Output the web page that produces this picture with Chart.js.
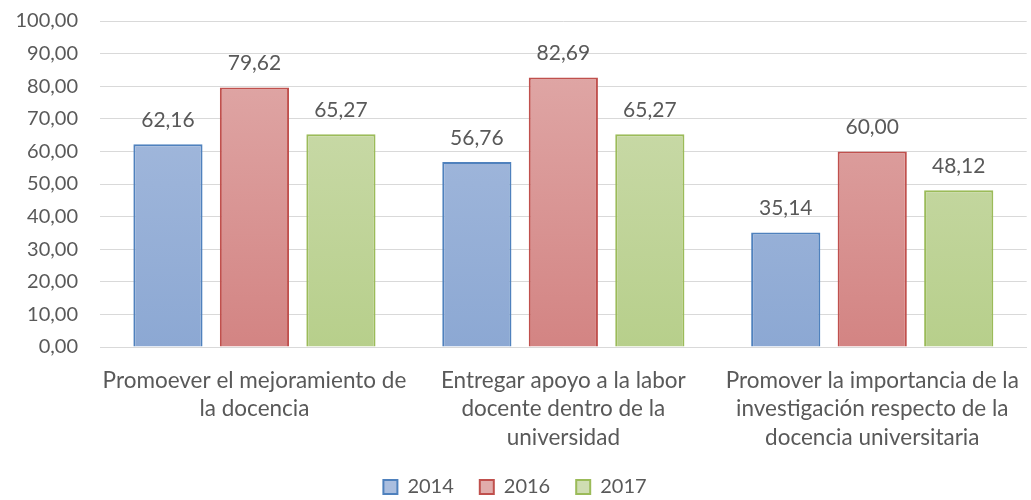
<!DOCTYPE html>
<html>
<head>
<meta charset="utf-8">
<script src="https://cdn.jsdelivr.net/npm/chart.js@4/dist/chart.umd.min.js"></script>
<style>
  html, body { margin: 0; padding: 0; background: #fff; }
  #wrap { width: 1031px; height: 500px; }
</style>
</head>
<body>
<div id="wrap"><canvas id="chart"></canvas></div>
<script>
// data
const categories = [
    ["Promoever el mejoramiento de", "la docencia"],
    ["Entregar apoyo a la labor", "docente dentro de la", "universidad"],
    ["Promover la importancia de la", "investigación respecto de la", "docencia universitaria"]
];
const years = ["2014", "2016", "2017"];
const values2014 = [62.16, 56.76, 35.14];
const values2016 = [79.62, 82.69, 60.00];
const values2017 = [65.27, 65.27, 48.12];

const fmt = v => v.toFixed(2).replace('.', ',');
const FONT = 'Lato, "Open Sans", sans-serif';

// top / bottom gradient colours and border per series
const styles = [
    { top: '#aabedf', bottom: '#8ca8d3', border: '#4f81bd' },
    { top: '#e1acab', bottom: '#d38483', border: '#c0504d' },
    { top: '#cfddb2', bottom: '#b7cf8b', border: '#9bbb59' }
];

function gradient(ctx, s) {
    const area = ctx.chart.chartArea;
    if (!area) return s.bottom;
    const g = ctx.chart.ctx.createLinearGradient(0, area.top, 0, area.bottom);
    g.addColorStop(0, s.top);
    g.addColorStop(1, s.bottom);
    return g;
}

// draw value labels above bars
const valueLabels = {
    id: 'valueLabels',
    afterDatasetsDraw(chart) {
        const c = chart.ctx;
        c.save();
        c.font = '21px ' + FONT;
        c.fillStyle = '#595959';
        c.textAlign = 'center';
        c.textBaseline = 'middle';
        chart.data.datasets.forEach((ds, i) => {
            chart.getDatasetMeta(i).data.forEach((bar, j) => {
                c.fillText(fmt(ds.data[j]), bar.x, bar.y - 24);
            });
        });
        c.restore();
    }
};

const seriesData = [values2014, values2016, values2017];

new Chart(document.getElementById('chart'), {
    type: 'bar',
    data: {
        labels: categories,
        datasets: years.map((y, i) => ({
            label: y,
            data: seriesData[i],
            backgroundColor: ctx => gradient(ctx, styles[i]),
            borderColor: styles[i].border,
            borderWidth: 2,
            borderSkipped: 'bottom',
            categoryPercentage: 0.84,
            barPercentage: 0.8
        }))
    },
    options: {
        responsive: true,
        maintainAspectRatio: false,
        animation: false,
        layout: { padding: { top: 21, right: 1, left: 0, bottom: -7 } },
        scales: {
            x: {
                grid: { display: false },
                border: { color: '#d9d9d9', width: 1 },
                ticks: {
                    color: '#595959',
                    font: { size: 22.5, family: FONT, lineHeight: 1.25 },
                    maxRotation: 0,
                    autoSkip: false,
                    padding: 12
                },
                afterFit(axis) { axis.height = 104; }
            },
            y: {
                min: 0,
                max: 100,
                border: { display: false },
                grid: { color: '#d9d9d9', lineWidth: 1, drawTicks: false },
                ticks: {
                    stepSize: 10,
                    color: '#595959',
                    font: { size: 20, family: FONT },
                    padding: 22,
                    callback: v => fmt(v)
                },
                afterFit(axis) {
                    axis.width = 100;
                    axis.paddingTop = 0;
                    axis.paddingBottom = 0;
                }
            }
        },
        plugins: {
            legend: {
                position: 'bottom',
                labels: {
                    color: '#595959',
                    font: { size: 20, family: FONT },
                    boxWidth: 14,
                    boxHeight: 14,
                    padding: 26,
                    generateLabels(chart) {
                        return chart.data.datasets.map((ds, i) => ({
                            text: ds.label,
                            fillStyle: styles[i].top,
                            strokeStyle: styles[i].border,
                            lineWidth: 2,
                            fontColor: '#595959',
                            datasetIndex: i
                        }));
                    }
                }
            },
            tooltip: { enabled: false }
        }
    },
    plugins: [valueLabels]
});
</script>
</body>
</html>
